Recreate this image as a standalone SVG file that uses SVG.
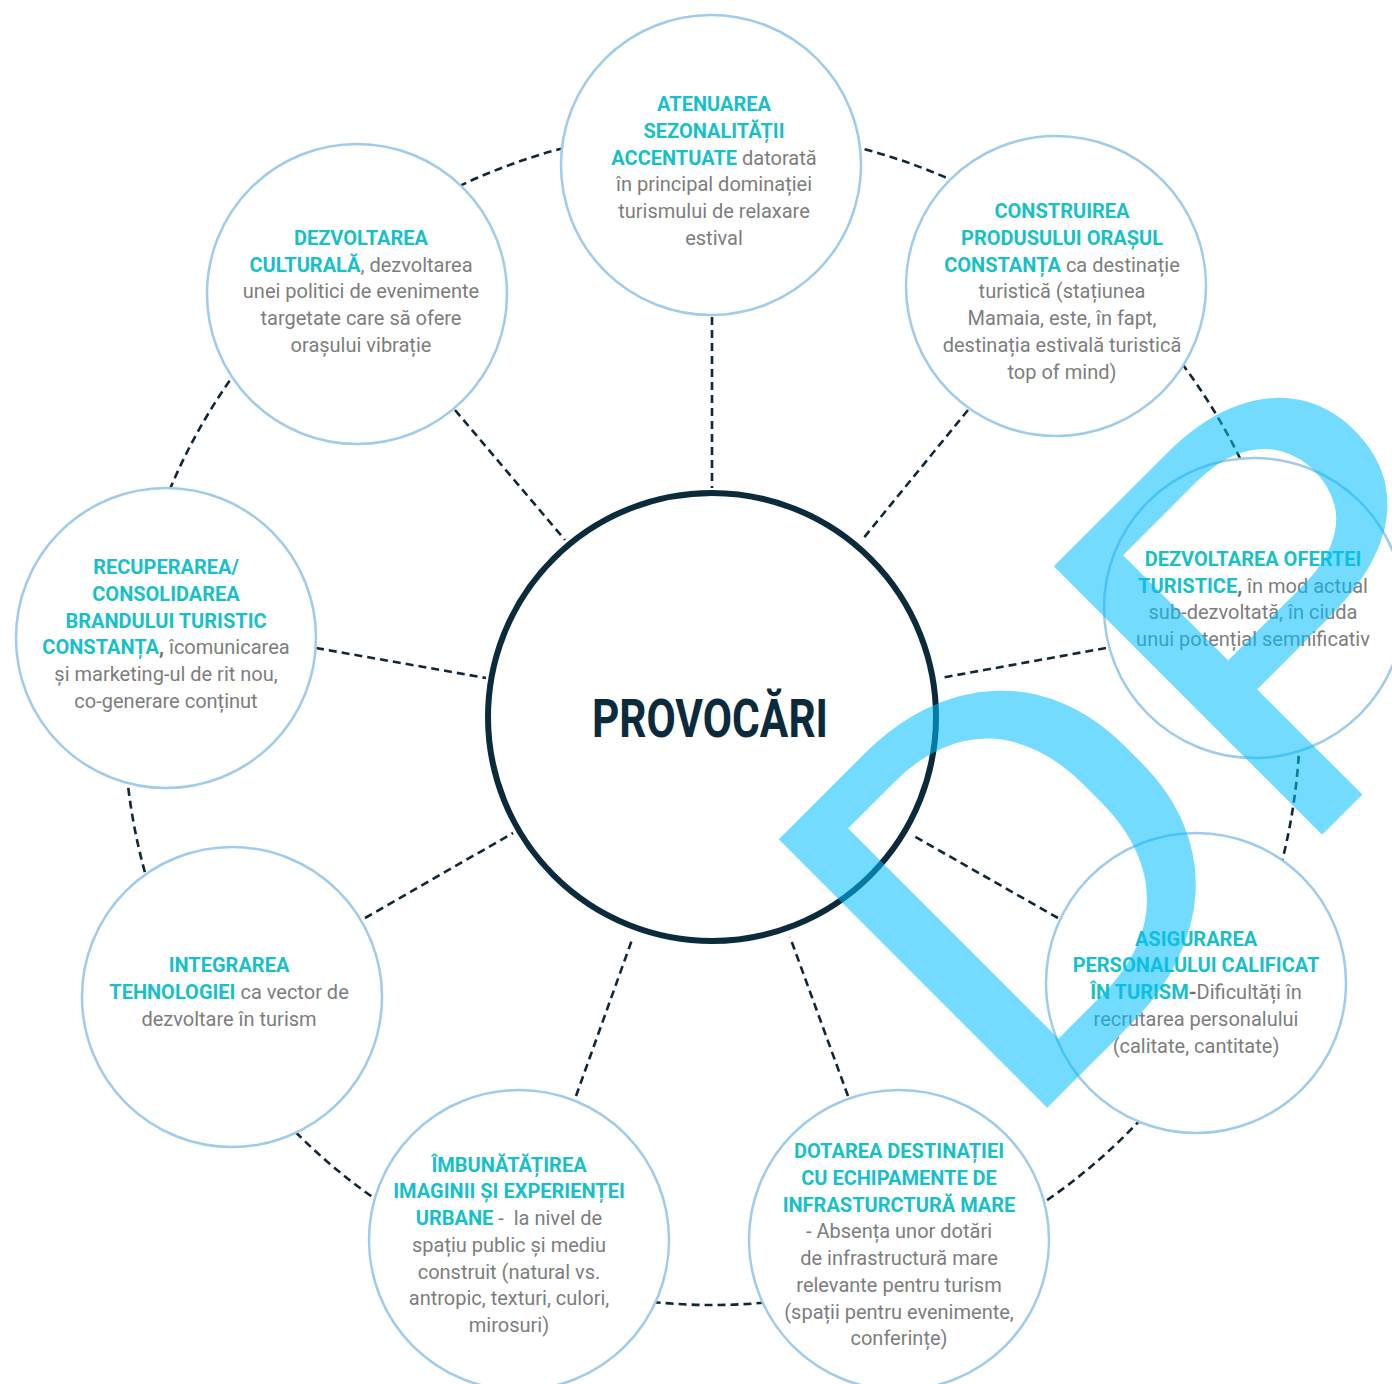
<svg xmlns="http://www.w3.org/2000/svg" width="1392" height="1384" viewBox="0 0 1392 1384">
<defs>
<style>
.bg{fill:#ffffff}
.dash{fill:none;stroke:#0f2838;stroke-width:2.6;stroke-dasharray:8 5}
.node{fill:#ffffff;stroke:#9fcbec;stroke-width:2.5}
.hub{fill:#ffffff;stroke:#0b2b3d;stroke-width:6}
.t{font-family:Roboto,"Liberation Sans",sans-serif;font-size:20px;fill:#7d7d7d;text-anchor:middle}
.b{font-weight:700;fill:#17bfc9}
.g{font-weight:700;fill:#6f6f6f}
.title{font-family:Roboto,"Liberation Sans",sans-serif;font-size:53px;font-weight:700;fill:#0b2b3d;text-anchor:middle}
.wm{font-family:Roboto,"Liberation Sans",sans-serif;font-size:534px;font-weight:400;fill:#00beff;fill-opacity:0.55}
</style>
</defs>
<rect class="bg" x="0" y="0" width="1392" height="1384"/>

<g id="connectors">
<circle class="dash" cx="712" cy="717" r="588"/>
<line class="dash" x1="712" y1="317" x2="712" y2="488"/>
<line class="dash" x1="968" y1="410" x2="862" y2="540"/>
<line class="dash" x1="1106" y1="648" x2="940" y2="678"/>
<line class="dash" x1="1058" y1="918" x2="912" y2="835"/>
<line class="dash" x1="848" y1="1096" x2="790" y2="937"/>
<line class="dash" x1="576" y1="1096" x2="633" y2="937"/>
<line class="dash" x1="365" y1="918" x2="513" y2="833"/>
<line class="dash" x1="316" y1="648" x2="486" y2="678"/>
<line class="dash" x1="455" y1="410" x2="565" y2="540"/>
</g>

<g id="hub">
<circle class="hub" cx="712" cy="717" r="224"/>
<text class="title" x="710" y="737" textLength="236" lengthAdjust="spacingAndGlyphs">PROVOCĂRI</text>
</g>

<g id="n-top">
<circle class="node" cx="711" cy="165" r="150"/>
<text class="t" x="714" y="111"><tspan class="b">ATENUAREA</tspan></text>
<text class="t" x="714" y="137.8"><tspan class="b">SEZONALITĂȚII</tspan></text>
<text class="t" x="714" y="164.6"><tspan class="b">ACCENTUATE</tspan> datorată</text>
<text class="t" x="714" y="191.4">în principal dominației</text>
<text class="t" x="714" y="218.2">turismului de relaxare</text>
<text class="t" x="714" y="245">estival</text>
</g>

<g id="n-topright">
<circle class="node" cx="1056" cy="286" r="150"/>
<text class="t" x="1062" y="218.3"><tspan class="b">CONSTRUIREA</tspan></text>
<text class="t" x="1062" y="245"><tspan class="b">PRODUSULUI ORAȘUL</tspan></text>
<text class="t" x="1062" y="271.7"><tspan class="b">CONSTANȚA</tspan> ca destinație</text>
<text class="t" x="1062" y="298.4">turistică (stațiunea</text>
<text class="t" x="1062" y="325.1">Mamaia, este, în fapt,</text>
<text class="t" x="1062" y="351.8">destinația estivală turistică</text>
<text class="t" x="1062" y="378.5">top of mind)</text>
</g>

<g id="n-right">
<circle class="node" cx="1254" cy="608" r="150"/>
<text class="t" x="1253" y="566"><tspan class="b">DEZVOLTAREA OFERTEI</tspan></text>
<text class="t" x="1253" y="592.7"><tspan class="b">TURISTICE</tspan><tspan class="g">,</tspan> în mod actual</text>
<text class="t" x="1253" y="619.4">sub-dezvoltată, în ciuda</text>
<text class="t" x="1253" y="646.1">unui potențial semnificativ</text>
</g>

<g id="n-bottomright">
<circle class="node" cx="1196" cy="983" r="150"/>
<text class="t" x="1196" y="945.7"><tspan class="b">ASIGURAREA</tspan></text>
<text class="t" x="1196" y="972.4"><tspan class="b">PERSONALULUI CALIFICAT</tspan></text>
<text class="t" x="1196" y="999.1"><tspan class="b">ÎN TURISM</tspan><tspan class="g">-</tspan>Dificultăți în</text>
<text class="t" x="1196" y="1025.8">recrutarea personalului</text>
<text class="t" x="1196" y="1052.5">(calitate, cantitate)</text>
</g>

<g id="n-bottom">
<circle class="node" cx="899" cy="1240" r="150"/>
<text class="t" x="899" y="1158.3"><tspan class="b">DOTAREA DESTINAȚIEI</tspan></text>
<text class="t" x="899" y="1185"><tspan class="b">CU ECHIPAMENTE DE</tspan></text>
<text class="t" x="899" y="1211.7"><tspan class="b">INFRASTURCTURĂ MARE</tspan></text>
<text class="t" x="899" y="1238.4">- Absența unor dotări</text>
<text class="t" x="899" y="1265.1">de infrastructură mare</text>
<text class="t" x="899" y="1291.8">relevante pentru turism</text>
<text class="t" x="899" y="1318.5">(spații pentru evenimente,</text>
<text class="t" x="899" y="1345.2">conferințe)</text>
</g>

<g id="n-bottomleft">
<circle class="node" cx="519" cy="1240" r="150"/>
<text class="t" x="509" y="1171.7"><tspan class="b">ÎMBUNĂTĂȚIREA</tspan></text>
<text class="t" x="509" y="1198.4"><tspan class="b">IMAGINII ȘI EXPERIENȚEI</tspan></text>
<text class="t" x="509" y="1225.1" xml:space="preserve"><tspan class="b">URBANE</tspan> -  la nivel de</text>
<text class="t" x="509" y="1251.8">spațiu public și mediu</text>
<text class="t" x="509" y="1278.5">construit (natural vs.</text>
<text class="t" x="509" y="1305.2">antropic, texturi, culori,</text>
<text class="t" x="509" y="1331.9">mirosuri)</text>
</g>

<g id="n-leftbottom">
<circle class="node" cx="232" cy="997" r="150"/>
<text class="t" x="229" y="972.3"><tspan class="b">INTEGRAREA</tspan></text>
<text class="t" x="229" y="999"><tspan class="b">TEHNOLOGIEI</tspan> ca vector de</text>
<text class="t" x="229" y="1025.7">dezvoltare în turism</text>
</g>

<g id="n-left">
<circle class="node" cx="166" cy="638" r="150"/>
<text class="t" x="166" y="574.3"><tspan class="b">RECUPERAREA/</tspan></text>
<text class="t" x="166" y="601"><tspan class="b">CONSOLIDAREA</tspan></text>
<text class="t" x="166" y="627.7"><tspan class="b">BRANDULUI TURISTIC</tspan></text>
<text class="t" x="166" y="654.4"><tspan class="b">CONSTANȚA</tspan><tspan class="g">,</tspan> îcomunicarea</text>
<text class="t" x="166" y="681.1">și marketing-ul de rit nou,</text>
<text class="t" x="166" y="707.8">co-generare conținut</text>
</g>

<g id="n-topleft">
<circle class="node" cx="357" cy="294" r="150"/>
<text class="t" x="361" y="245"><tspan class="b">DEZVOLTAREA</tspan></text>
<text class="t" x="361" y="271.7"><tspan class="b">CULTURALĂ</tspan>, dezvoltarea</text>
<text class="t" x="361" y="298.4">unei politici de evenimente</text>
<text class="t" x="361" y="325.1">targetate care să ofere</text>
<text class="t" x="361" y="351.8">orașului vibrație</text>
</g>

<g id="watermark">
<text class="wm" transform="translate(1012 1143) rotate(-45) scale(1.13 1)">D</text>
<text class="wm" transform="translate(1287 870) rotate(-45) scale(1.13 1)">P</text>
</g>
</svg>
